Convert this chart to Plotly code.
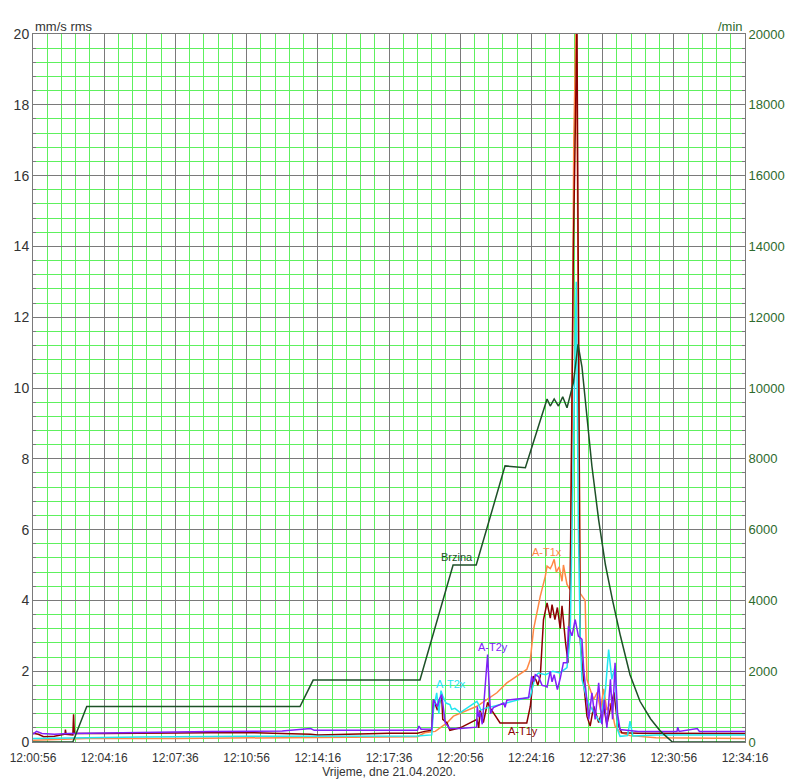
import pandas as pd
import plotly.graph_objects as go

# time axis: seconds after 12:00:56 on 21.04.2020
T0 = pd.Timestamp("2020-04-21 12:00:56")

# Brzina (speed, /min) - right axis
brzina_s = [0, 112, 151, 300, 500, 750, 787, 900, 1087, 1180, 1245, 1326, 1383, 1444, 1453,
            1464, 1476, 1488, 1500, 1518, 1531, 1542, 1556, 1570, 1589, 1608, 1628, 1650,
            1677, 1705, 1735, 1763, 1796, 2000]
brzina_rpm = [0, 0, 1000, 1000, 1000, 1000, 1750, 1750, 1750, 5000, 5000, 7800, 7750, 9690, 9490,
              9690, 9490, 9750, 9440, 10150, 11230, 10600, 9100, 7790, 6270, 5000, 4000, 3000,
              1900, 1150, 650, 300, 0, 0]

# A-T1x (mm/s rms)
t1x_s = [0, 50, 150, 400, 700, 900, 1080, 1100, 1130, 1163, 1181, 1247, 1303, 1331, 1387, 1397,
         1406, 1425, 1439, 1444, 1453, 1458, 1464, 1470, 1478, 1486, 1490, 1500, 1509, 1514,
         1519, 1526, 1531, 1537, 1551, 1556, 1565, 1575, 1585, 1594, 1603, 1612, 1622, 1635,
         1649, 1677, 1750, 2000]
t1x_v = [0.05, 0.06, 0.1, 0.1, 0.13, 0.15, 0.15, 0.26, 0.3, 0.54, 0.73, 1.01, 1.39, 1.67, 2.05, 2.33,
         3.18, 4.12, 4.68, 4.97, 4.9, 5.0, 5.16, 4.8, 4.95, 4.54, 5.0, 4.45, 4.3, 9.0,
         17.0, 20.7, 14.0, 4.2, 4.0, 1.77, 1.48, 1.2, 1.4, 0.9, 1.5, 0.9, 1.1, 0.45,
         0.27, 0.18, 0.12, 0.1]

# A-T1y (mm/s rms)
t1y_s = [0, 15, 30, 60, 90, 91, 93, 112, 114, 116, 200, 400, 600, 780, 800, 1000, 1080, 1100,
         1120, 1125, 1136, 1148, 1151, 1163, 1171, 1200, 1247, 1252, 1256, 1265, 1277, 1285,
         1312, 1387, 1397, 1406, 1413, 1418, 1425, 1434, 1444, 1453, 1458, 1466, 1473, 1481,
         1486, 1496, 1503, 1509, 1518, 1528, 1533, 1537, 1547, 1556, 1565, 1575, 1589, 1603,
         1612, 1626, 1632, 1640, 1645, 1654, 1700, 2000]
t1y_v = [0.25, 0.22, 0.15, 0.16, 0.22, 0.35, 0.22, 0.2, 0.78, 0.25, 0.24, 0.25, 0.27, 0.22, 0.2,
         0.25, 0.25, 0.3, 0.33, 1.2, 0.9, 1.29, 0.64, 0.54, 0.33, 0.4, 0.64, 0.4, 0.9, 0.55,
         1.12, 0.95, 0.54, 0.54, 1.01, 1.86, 1.75, 1.6, 1.86, 3.46, 3.93, 3.5, 3.88, 3.46, 3.8,
         3.2, 3.85, 2.8, 2.24, 4.4, 14.0, 20.3, 12.0, 2.9, 1.67, 0.73, 0.45, 1.01, 0.55, 1.01,
         0.5, 1.1, 1.4, 0.7, 0.45, 0.26, 0.25, 0.24]

# A-T2x (mm/s rms)
t2x_s = [0, 100, 300, 600, 800, 1080, 1120, 1125, 1134, 1140, 1146, 1151, 1160, 1171, 1176, 1185,
         1200, 1247, 1252, 1258, 1270, 1397, 1411, 1420, 1440, 1460, 1480, 1500, 1509, 1518,
         1526, 1532, 1537, 1542, 1556, 1575, 1594, 1608, 1617, 1626, 1635, 1642, 1649, 1670,
         1677, 1685, 1750, 2000]
t2x_v = [0.1, 0.12, 0.14, 0.16, 0.17, 0.17, 0.2, 0.92, 1.39, 0.8, 1.45, 1.3, 1.1, 1.06, 0.92, 0.95,
         0.83, 1.15, 1.05, 0.9, 0.95, 1.28, 1.86, 1.95, 1.9, 2.0, 1.95, 2.1, 3.0, 8.0,
         13.0, 6.0, 3.0, 1.77, 1.2, 0.83, 0.55, 1.48, 2.61, 1.77, 2.14, 0.35, 0.16, 0.18,
         0.59, 0.17, 0.2, 0.2]

# A-T2y (mm/s rms)
t2y_s = [0, 10, 25, 60, 100, 150, 300, 500, 700, 780, 790, 900, 1000, 1080, 1084, 1090, 1120,
         1125, 1136, 1141, 1148, 1152, 1158, 1165, 1171, 1200, 1246, 1248, 1252, 1256, 1262,
         1277, 1282, 1285, 1293, 1322, 1326, 1331, 1392, 1401, 1406, 1411, 1420, 1430, 1439,
         1444, 1453, 1458, 1464, 1473, 1481, 1490, 1500, 1504, 1514, 1523, 1532, 1542, 1547,
         1556, 1561, 1570, 1579, 1589, 1598, 1605, 1612, 1622, 1628, 1635, 1642, 1649, 1700,
         1809, 1811, 1815, 1866, 1872, 2000]
t2y_v = [0.22, 0.3, 0.24, 0.22, 0.24, 0.25, 0.28, 0.3, 0.31, 0.38, 0.33, 0.33, 0.34, 0.33, 0.45,
         0.36, 0.37, 1.2, 1.0, 1.2, 1.34, 1.0, 0.54, 0.45, 0.38, 0.38, 0.42, 1.0, 0.7, 0.85, 0.5,
         2.47, 1.2, 0.8, 0.97, 1.1, 0.98, 1.18, 1.25, 1.86, 1.7, 1.9, 1.85, 1.6, 1.58,
         1.55, 2.0, 1.7, 1.9, 1.48, 1.8, 2.24, 2.24, 3.27, 3.0, 3.46, 2.99, 2.9, 2.05,
         1.2, 0.64, 1.39, 0.64, 1.67, 0.5, 1.2, 0.4, 1.77, 0.64, 2.24, 0.8, 0.35, 0.3,
         0.3, 0.42, 0.3, 0.38, 0.3, 0.3]


def to_time(secs):
    return T0 + pd.to_timedelta(secs, unit="s")


fig = go.Figure()

series = [
    ("A-T1x", t1x_s, t1x_v, "#FF8844"),
    ("A-T1y", t1y_s, t1y_v, "#8B0000"),
    ("A-T2x", t2x_s, t2x_v, "#22E6F0"),
    ("A-T2y", t2y_s, t2y_v, "#8020F8"),
]
for name, s, v, color in series:
    fig.add_trace(go.Scatter(x=to_time(s), y=v, mode="lines", name=name,
                             line=dict(color=color, width=1.5)))

fig.add_trace(go.Scatter(x=to_time(brzina_s), y=brzina_rpm, mode="lines", name="Brzina",
                         line=dict(color="#1E5028", width=1.5), yaxis="y2"))

# labels next to curves
labels = [
    ("Brzina", 1191, 5.24, "#1E5028"),
    ("A-T1x", 1444, 5.38, "#FF8844"),
    ("A-T2y", 1293, 2.67, "#8020F8"),
    ("A-T2x", 1174, 1.65, "#22E6F0"),
    ("A-T1y", 1375, 0.32, "#8B0000"),
]
for text, s, v, color in labels:
    fig.add_annotation(x=to_time(s), y=v, xref="x", yref="y", text=text, showarrow=False,
                       font=dict(size=11, color=color))

fig.add_annotation(x=0, y=1, xref="paper", yref="paper", xanchor="left", yanchor="bottom",
                   text="mm/s rms", showarrow=False, font=dict(size=13, color="#333333"), yshift=-2)
fig.add_annotation(x=1, y=1, xref="paper", yref="paper", xanchor="right", yanchor="bottom",
                   text="/min", showarrow=False, font=dict(size=13, color="#2E6B2E"), yshift=-2)

major = "#7A7A7A"
minor = "#5EF05E"

fig.update_layout(
    width=788, height=784,
    margin=dict(l=33, r=43, t=34, b=42, autoexpand=False),
    paper_bgcolor="white", plot_bgcolor="white",
    showlegend=False,
    font=dict(family="Liberation Sans, Arial", color="#333333"),
    xaxis=dict(
        type="date", automargin=False,
        range=[to_time(0), to_time(2000)],
        tick0=to_time(0), dtick=200000, tickformat="%H:%M:%S",
        showgrid=True, gridcolor=major, gridwidth=1,
        minor=dict(dtick=40000, tick0=to_time(0), showgrid=True, gridcolor=minor, gridwidth=1),
        showline=True, linecolor=major, mirror=True,
        ticks="", ticklabelstandoff=5,
        tickfont=dict(size=12, color="#333333"),
        title=dict(text="Vrijeme, dne 21.04.2020.", font=dict(size=12, color="#333333"), standoff=2),
        zeroline=False,
    ),
    yaxis=dict(
        range=[0, 20], dtick=2, automargin=False,
        showgrid=True, gridcolor=major, gridwidth=1,
        minor=dict(dtick=0.4, showgrid=True, gridcolor=minor, gridwidth=1,
                   ticks="inside", ticklen=3, tickcolor=major),
        ticks="inside", ticklen=3, tickcolor=major,
        showline=True, linecolor=major,
        tickfont=dict(size=14, color="#333333"),
        zeroline=False,
    ),
    yaxis2=dict(
        range=[0, 20000], dtick=2000, tickformat="d", automargin=False,
        overlaying="y", side="right",
        showgrid=False,
        minor=dict(dtick=400, ticks="inside", ticklen=3, tickcolor=major),
        ticks="inside", ticklen=3, tickcolor=major,
        showline=True, linecolor=major,
        tickfont=dict(size=13, color="#2E6B2E"),
        zeroline=False,
    ),
)

fig.write_html("out.html", config={"displayModeBar": False},
               post_script="document.body.style.margin='0';")
